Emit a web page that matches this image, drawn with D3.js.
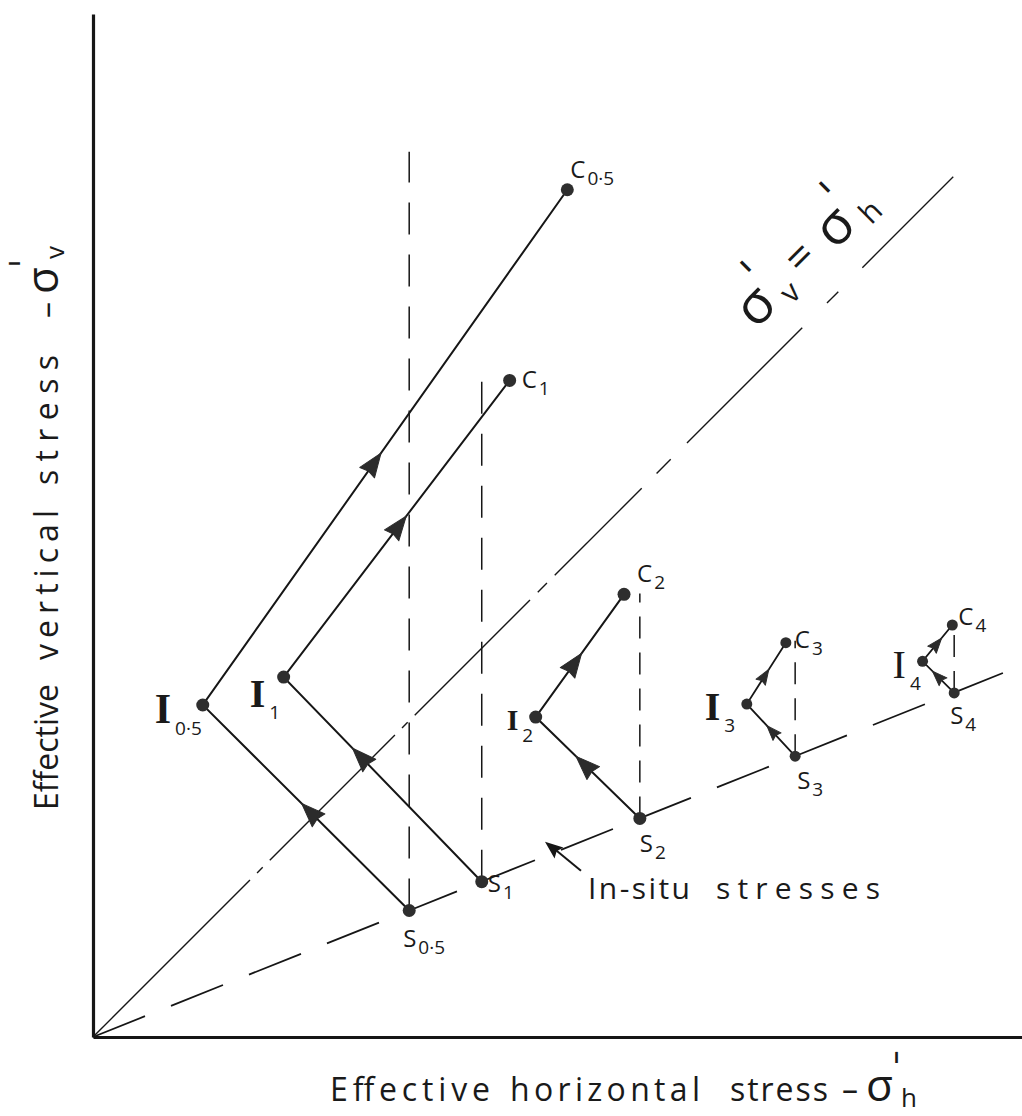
<!DOCTYPE html>
<html>
<head>
<meta charset="utf-8">
<script src="https://cdn.jsdelivr.net/npm/d3@7"></script>
<style>
  body { margin: 0; background: #fff; }
  text { font-family: "Open Sans", "DejaVu Sans", sans-serif; fill: #1a1a1a; }
  .prime { font-family: "DejaVu Sans", sans-serif; }
</style>
</head>
<body>
<svg id="chart" width="1022" height="1116"></svg>
<script>
// Stress paths for each overconsolidation series: in-situ state S -> state I -> end of compression C
const series = ["0·5", "1", "2", "3", "4"];
// in-situ effective stresses (σ'h, σ'v)
const inSituH = [34.0, 41.8, 58.8, 75.5, 92.6];
const inSituV = [13.6, 16.7, 23.5, 30.2, 37.0];
// intermediate state I
const stateIH = [11.8, 20.5, 47.6, 70.3, 89.2];
const stateIV = [35.7, 38.7, 34.4, 35.8, 40.4];
// end of compression C
const stateCH = [51.0, 44.8, 57.1, 74.5, 92.4];
const stateCV = [91.1, 70.6, 47.6, 42.4, 44.3];
// top of the vertical reference line drawn above each in-situ point
const refTopV = [95.2, 71.5, 47.7, 42.6, 44.4];
// where along each leg the direction arrow sits (fraction of leg length)
const arrowOnSI = [0.48, 0.61, 0.53, 0.48, 0.52];
const arrowOnIC = [0.47, 0.51, 0.44, 0.46, 0.48];
// in-situ stress line σ'v / σ'h and the isotropic line σ'v = σ'h
const inSituSlope = 0.4;
const isoEnd = 92.5;
const axisMaxH = 100, axisMaxV = 110;

const svg = d3.select("#chart");
const ink = "#161616";
const x = d3.scaleLinear().domain([0, axisMaxH]).range([93, 1023]);
const y = d3.scaleLinear().domain([0, axisMaxV]).range([1037, 14]);
const line = d3.line().x(d => x(d[0])).y(d => y(d[1]));

// axes without ticks
svg.append("g").attr("transform", `translate(0,${y(0)})`)
  .call(d3.axisBottom(x).tickValues([]).tickSizeOuter(0));
svg.append("g").attr("transform", `translate(${x(0)},0)`)
  .call(d3.axisLeft(y).tickValues([]).tickSizeOuter(0));
svg.selectAll(".domain").attr("stroke", ink).attr("stroke-width", 3.2);

// isotropic line σ'v = σ'h (hand-drawn chain line: long dash, gap, dot, gap)
svg.append("path")
  .attr("d", line([[0, 0], [isoEnd, isoEnd]]))
  .attr("fill", "none").attr("stroke", ink).attr("stroke-width", 1.4)
  .attr("stroke-dasharray", "222,10,8,10,177,10,8,10,163,11,13,11,123,21,20,23,163,35,16,34,140");

// in-situ stress line (long dashes)
svg.append("path")
  .attr("d", line([[0, 0], [axisMaxH, axisMaxH * inSituSlope]]))
  .attr("fill", "none").attr("stroke", ink).attr("stroke-width", 1.8)
  .attr("stroke-dasharray", "56,28");

// vertical dashed reference lines
series.forEach((s, i) => {
  svg.append("path")
    .attr("d", line([[inSituH[i], inSituV[i]], [inSituH[i], refTopV[i]]]))
    .attr("fill", "none").attr("stroke", ink).attr("stroke-width", 1.5)
    .attr("stroke-dasharray", i < 2 ? "32,20" : "22,14");
});

// stress paths
series.forEach((s, i) => {
  const pts = [[inSituH[i], inSituV[i]], [stateIH[i], stateIV[i]], [stateCH[i], stateCV[i]]];
  svg.append("path").attr("d", line(pts))
    .attr("fill", "none").attr("stroke", ink).attr("stroke-width", i < 3 ? 2 : 1.8);
});

// arrowheads
function arrow(p0, p1, t, len, half) {
  const x0 = x(p0[0]), y0 = y(p0[1]), x1 = x(p1[0]), y1 = y(p1[1]);
  const cx = x0 + (x1 - x0) * t, cy = y0 + (y1 - y0) * t;
  const ang = Math.atan2(y1 - y0, x1 - x0) * 180 / Math.PI;
  svg.append("path")
    .attr("d", `M${len / 2},0 L${-len / 2},${-half} L${-len / 2 + 2},0 L${-len / 2},${half} Z`)
    .attr("transform", `translate(${cx},${cy}) rotate(${ang})`)
    .attr("fill", "#2b2b2b").attr("stroke", "#2b2b2b").attr("stroke-width", 1).attr("stroke-linejoin", "round");
}
series.forEach((s, i) => {
  const big = i < 3;
  const S = [inSituH[i], inSituV[i]], I = [stateIH[i], stateIV[i]], C = [stateCH[i], stateCV[i]];
  arrow(S, I, arrowOnSI[i], big ? 24 : 15, big ? 9 : 5.5);
  arrow(I, C, arrowOnIC[i], big ? 24 : 15, big ? 9 : 5.5);
});

// state points
series.forEach((s, i) => {
  const r = i < 3 ? 6.5 : 5.5;
  [[inSituH[i], inSituV[i]], [stateIH[i], stateIV[i]], [stateCH[i], stateCV[i]]].forEach(p => {
    svg.append("circle").attr("cx", x(p[0])).attr("cy", y(p[1])).attr("r", r).attr("fill", "#2e2e2e");
  });
});

// point labels: letter + subscript, offsets in px from the point
const labelI = [[-48, 18, 42, true], [-34, 30, 40, true], [-29, 13, 30, true], [-42, 16, 40, true], [-30, 17, 40, false]];
const labelC = [[3, -12], [12, 8], [13, -12], [9, 5], [6, 0]];
const labelS = [[-6, 36], [6, 10], [0, 34], [2, 33], [-4, 31]];
function pointLabel(px, py, letter, sub, size, serif, bold) {
  const t = svg.append("text").attr("x", px).attr("y", py)
    .style("font-size", size + "px");
  t.append("tspan").text(letter)
    .style("font-family", serif ? "'Liberation Serif', serif" : null)
    .style("font-weight", bold ? "bold" : null);
  t.append("tspan").attr("dy", serif ? 12 : 7).attr("dx", serif ? 4 : 2).text(sub)
    .style("font-size", "19px");
}
series.forEach((s, i) => {
  pointLabel(x(stateIH[i]) + labelI[i][0], y(stateIV[i]) + labelI[i][1], "I", s, labelI[i][2], true, labelI[i][3]);
  pointLabel(x(stateCH[i]) + labelC[i][0], y(stateCV[i]) + labelC[i][1], "C", s, 24, false, false);
  pointLabel(x(inSituH[i]) + labelS[i][0], y(inSituV[i]) + labelS[i][1], "S", s, 24, false, false);
});

// in-situ annotation with pointer
const tip = [48.6, 21.0];
svg.append("line")
  .attr("x1", x(tip[0]) + 36).attr("y1", y(tip[1]) + 29)
  .attr("x2", x(tip[0]) + 8).attr("y2", y(tip[1]) + 6)
  .attr("stroke", ink).attr("stroke-width", 2);
svg.append("path")
  .attr("d", "M0,0 L18,-7 L15,0 L18,7 Z")
  .attr("transform", `translate(${x(tip[0])},${y(tip[1])}) rotate(39)`)
  .attr("fill", ink);
svg.append("text").attr("x", 588).attr("y", 899).style("font-size", "30px")
  .attr("textLength", 102).attr("lengthAdjust", "spacing").text("In-situ");
svg.append("text").attr("x", 716).attr("y", 899).style("font-size", "30px")
  .attr("textLength", 164).attr("lengthAdjust", "spacing").text("stresses");

// stress symbol with prime and subscript, all in one text element
function sigma(sel, sx, sy, size, sub, primeSize, subSize) {
  const t = sel.append("text").attr("x", sx).attr("y", sy).style("font-size", size + "px");
  t.append("tspan").text("σ");
  t.append("tspan").attr("class", "prime").attr("dx", -2).attr("dy", -size * 0.42)
    .style("font-size", primeSize + "px").text("ˈ");
  t.append("tspan").attr("dx", -1).attr("dy", size * 0.56)
    .style("font-size", subSize + "px").text(sub);
  return t;
}

// label on the isotropic line
const isoG = svg.append("g").attr("transform", "translate(756,330) rotate(-45)");
sigma(isoG, 0, 0, 54, "v", 48, 30);
isoG.append("text").attr("x", 70).attr("y", -6).style("font-size", "44px").text("=");
sigma(isoG, 112, 0, 54, "h", 48, 30);

// axis titles
const xWords = [["Effective", 330, 160], ["horizontal", 510, 190], ["stress", 730, 98]];
xWords.forEach(w => svg.append("text").attr("x", w[1]).attr("y", 1101).style("font-size", "32px")
  .attr("textLength", w[2]).attr("lengthAdjust", "spacing").text(w[0]));
svg.append("text").attr("x", 842).attr("y", 1101).style("font-size", "32px").text("–");
sigma(svg, 866, 1101, 44, "h", 40, 26);

const yt = svg.append("g").attr("transform", "translate(58,810) rotate(-90)");
const yWords = [["Effective", 0, 126], ["vertical", 150, 150], ["stress", 325, 130]];
yWords.forEach(w => yt.append("text").attr("x", w[1]).attr("y", 0).style("font-size", "32px")
  .attr("textLength", w[2]).attr("lengthAdjust", "spacing").text(w[0]));
yt.append("text").attr("x", 492).attr("y", 0).style("font-size", "32px").text("–");
sigma(yt, 516, 0, 44, "v", 40, 26);
</script>
</body>
</html>
